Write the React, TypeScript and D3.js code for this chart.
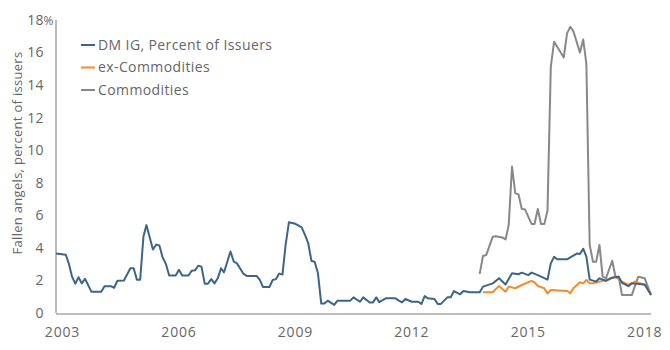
import { useEffect, useRef } from "react";
import * as d3 from "d3";

type Pt = [string, number];

// DM IG fallen angels, percent of issuers (month, value)
const dmIg: Pt[] = [
  ["2002-11", 3.65], ["2003-02", 3.58], ["2003-03", 3.05], ["2003-04", 2.23],
  ["2003-05", 1.8], ["2003-06", 2.2], ["2003-07", 1.82], ["2003-08", 2.1],
  ["2003-10", 1.3], ["2004-01", 1.3], ["2004-02", 1.65], ["2004-04", 1.65],
  ["2004-05", 1.55], ["2004-06", 1.98], ["2004-08", 2.0], ["2004-10", 2.75],
  ["2004-11", 2.75], ["2004-12", 2.05], ["2005-01", 2.05], ["2005-02", 4.7],
  ["2005-03", 5.4], ["2005-05", 3.9], ["2005-06", 4.2], ["2005-07", 4.15],
  ["2005-08", 3.4], ["2005-09", 3.0], ["2005-10", 2.3], ["2005-12", 2.3],
  ["2006-01", 2.65], ["2006-02", 2.3], ["2006-04", 2.3], ["2006-05", 2.6],
  ["2006-06", 2.62], ["2006-07", 2.9], ["2006-08", 2.85], ["2006-09", 1.8],
  ["2006-10", 1.8], ["2006-11", 2.08], ["2006-12", 1.82], ["2007-01", 2.13],
  ["2007-02", 2.75], ["2007-03", 2.5], ["2007-05", 3.78], ["2007-06", 3.15],
  ["2007-07", 3.05], ["2007-09", 2.4], ["2007-10", 2.28], ["2008-01", 2.28],
  ["2008-02", 2.03], ["2008-03", 1.6], ["2008-05", 1.6], ["2008-06", 2.03],
  ["2008-07", 2.08], ["2008-08", 2.42], ["2008-09", 2.36], ["2008-10", 4.2],
  ["2008-11", 5.58], ["2009-01", 5.48], ["2009-03", 5.26], ["2009-04", 4.8],
  ["2009-05", 4.3], ["2009-06", 3.2], ["2009-07", 3.15], ["2009-08", 2.44],
  ["2009-09", 0.58], ["2009-10", 0.58], ["2009-11", 0.76], ["2010-01", 0.5],
  ["2010-02", 0.76], ["2010-06", 0.76], ["2010-07", 0.96], ["2010-09", 0.69],
  ["2010-10", 0.96], ["2010-12", 0.65], ["2011-01", 0.65], ["2011-02", 0.96],
  ["2011-03", 0.67], ["2011-05", 0.9], ["2011-08", 0.9], ["2011-09", 0.76],
  ["2011-10", 0.65], ["2011-11", 0.86], ["2012-01", 0.69], ["2012-03", 0.69],
  ["2012-04", 0.56], ["2012-05", 1.04], ["2012-06", 0.9], ["2012-08", 0.86],
  ["2012-09", 0.56], ["2012-10", 0.56], ["2012-12", 0.96], ["2013-01", 0.96],
  ["2013-02", 1.35], ["2013-04", 1.15], ["2013-05", 1.35], ["2013-07", 1.27],
  ["2013-10", 1.27], ["2013-11", 1.62], ["2014-02", 1.82], ["2014-04", 2.13],
  ["2014-06", 1.75], ["2014-08", 2.44], ["2014-10", 2.38], ["2014-11", 2.48],
  ["2015-01", 2.33], ["2015-02", 2.48], ["2015-04", 2.33], ["2015-07", 2.05],
  ["2015-08", 3.05], ["2015-09", 3.45], ["2015-10", 3.3], ["2016-01", 3.3],
  ["2016-04", 3.65], ["2016-05", 3.62], ["2016-06", 3.95], ["2016-07", 3.46],
  ["2016-08", 2.05], ["2016-10", 1.93], ["2016-11", 2.13], ["2017-01", 1.97],
  ["2017-03", 2.17], ["2017-05", 2.23], ["2017-06", 1.85], ["2017-08", 1.65],
  ["2017-09", 1.82], ["2018-01", 1.75], ["2018-03", 1.1],
];

const exCommodities: Pt[] = [
  ["2013-11", 1.27], ["2014-02", 1.27], ["2014-04", 1.66], ["2014-06", 1.31],
  ["2014-07", 1.62], ["2014-09", 1.52], ["2014-11", 1.72], ["2015-02", 1.97],
  ["2015-03", 1.89], ["2015-04", 1.66], ["2015-06", 1.52], ["2015-07", 1.2],
  ["2015-08", 1.41], ["2016-01", 1.35], ["2016-02", 1.22], ["2016-03", 1.52],
  ["2016-05", 1.89], ["2016-06", 1.82], ["2016-07", 2.03], ["2016-08", 1.82],
  ["2016-09", 1.82], ["2017-01", 2.03], ["2017-04", 2.23], ["2017-06", 1.93],
  ["2017-08", 1.72], ["2017-10", 1.93], ["2018-01", 1.72], ["2018-03", 1.2],
];

const commodities: Pt[] = [
  ["2013-10", 2.4], ["2013-11", 3.5], ["2013-12", 3.56], ["2014-02", 4.69],
  ["2014-03", 4.72], ["2014-05", 4.64], ["2014-06", 4.52], ["2014-07", 5.4],
  ["2014-08", 9.0], ["2014-09", 7.35], ["2014-10", 7.29], ["2014-11", 6.39],
  ["2014-12", 6.37], ["2015-02", 5.47], ["2015-03", 5.47], ["2015-04", 6.39],
  ["2015-05", 5.47], ["2015-06", 5.47], ["2015-07", 6.29], ["2015-08", 15.1],
  ["2015-09", 16.67], ["2015-12", 15.7], ["2016-01", 17.18], ["2016-02", 17.59],
  ["2016-03", 17.3], ["2016-05", 16.0], ["2016-06", 16.8], ["2016-07", 15.3],
  ["2016-08", 4.18], ["2016-09", 3.15], ["2016-10", 3.15], ["2016-11", 4.18],
  ["2016-12", 2.23], ["2017-01", 2.13], ["2017-03", 3.21], ["2017-04", 2.23],
  ["2017-05", 2.23], ["2017-06", 1.1], ["2017-09", 1.1], ["2017-11", 2.23],
  ["2018-01", 2.13], ["2018-03", 1.1],
];

const seriesNames = ["DM IG, Percent of Issuers", "ex-Commodities", "Commodities"];
const seriesColors = ["#3d6489", "#f68b2c", "#888888"];
const yTicks = [0, 2, 4, 6, 8, 10, 12, 14, 16, 18];
const xTickYears = [2003, 2006, 2009, 2012, 2015, 2018];

const parse = d3.timeParse("%Y-%m");
const FONT = "'Open Sans', sans-serif";
const TEXT = "#666666";

export default function App() {
  const ref = useRef<SVGSVGElement>(null);

  useEffect(() => {
    if (!ref.current) return;
    const svg = d3.select(ref.current);
    svg.selectAll("*").remove();

    const x = d3
      .scaleTime()
      .domain([parse("2002-11")!, parse("2018-03")!])
      .range([56, 651]);
    const y = d3.scaleLinear().domain([0, 18]).range([313, 20]);

    // axes lines
    svg.append("line")
      .attr("x1", 56).attr("x2", 56).attr("y1", y(18)).attr("y2", y(0))
      .attr("stroke", "#8c8c8c").attr("stroke-width", 1.2);
    svg.append("line")
      .attr("x1", 56).attr("x2", 651).attr("y1", y(0) + 1).attr("y2", y(0) + 1)
      .attr("stroke", "#bdbdbd").attr("stroke-width", 2);

    // y tick labels (the % sign hangs past the column)
    const yl = svg.append("g").selectAll("text")
      .data(yTicks)
      .join("text")
      .attr("x", 44)
      .attr("y", (d) => y(d))
      .attr("dy", "0.35em")
      .attr("text-anchor", "end")
      .attr("font-family", FONT)
      .attr("font-size", 14)
      .attr("letter-spacing", 0.4)
      .attr("fill", TEXT)
      .text((d) => String(d));
    yl.filter((d) => d === 18)
      .append("tspan")
      .attr("x", 43.5)
      .attr("text-anchor", "start")
      .attr("font-size", 12)
      .attr("letter-spacing", 0)
      .text("%");

    // x tick labels
    svg.append("g").selectAll("text")
      .data(xTickYears)
      .join("text")
      .attr("x", (d) => x(new Date(d, 0, 1)))
      .attr("y", 337)
      .attr("text-anchor", "middle")
      .attr("font-family", FONT)
      .attr("font-size", 14)
      .attr("letter-spacing", 0.8)
      .attr("fill", TEXT)
      .text((d) => String(d));

    // y title
    svg.append("text")
      .attr("transform", `translate(22,153) rotate(-90)`)
      .attr("text-anchor", "middle")
      .attr("font-family", FONT)
      .attr("font-size", 13)
      .attr("letter-spacing", 0.3)
      .attr("fill", TEXT)
      .text("Fallen angels, percent of issuers");

    const line = d3
      .line<Pt>()
      .x((d) => x(parse(d[0])!))
      .y((d) => y(d[1]));

    const all = [dmIg, exCommodities, commodities];
    [2, 1, 0].forEach((i) => {
      svg.append("path")
        .datum(all[i])
        .attr("d", line)
        .attr("fill", "none")
        .attr("stroke", seriesColors[i])
        .attr("stroke-width", 2)
        .attr("stroke-linejoin", "round");
    });

    // legend
    const lg = svg.append("g").attr("transform", "translate(81,45)");
    seriesNames.forEach((name, i) => {
      const row = lg.append("g").attr("transform", `translate(0,${i * 22.5})`);
      row.append("line")
        .attr("x1", 0).attr("x2", 14).attr("y1", 0).attr("y2", 0)
        .attr("stroke", seriesColors[i]).attr("stroke-width", 2);
      row.append("text")
        .attr("x", 17)
        .attr("dy", "0.35em")
        .attr("font-family", FONT)
        .attr("font-size", 14)
        .attr("letter-spacing", 0.4)
        .attr("fill", TEXT)
        .text(name);
    });
  }, []);

  return (
    <svg
      ref={ref}
      width={670}
      height={350}
      style={{ position: "absolute", left: 0, top: 0, background: "#fff" }}
    />
  );
}
